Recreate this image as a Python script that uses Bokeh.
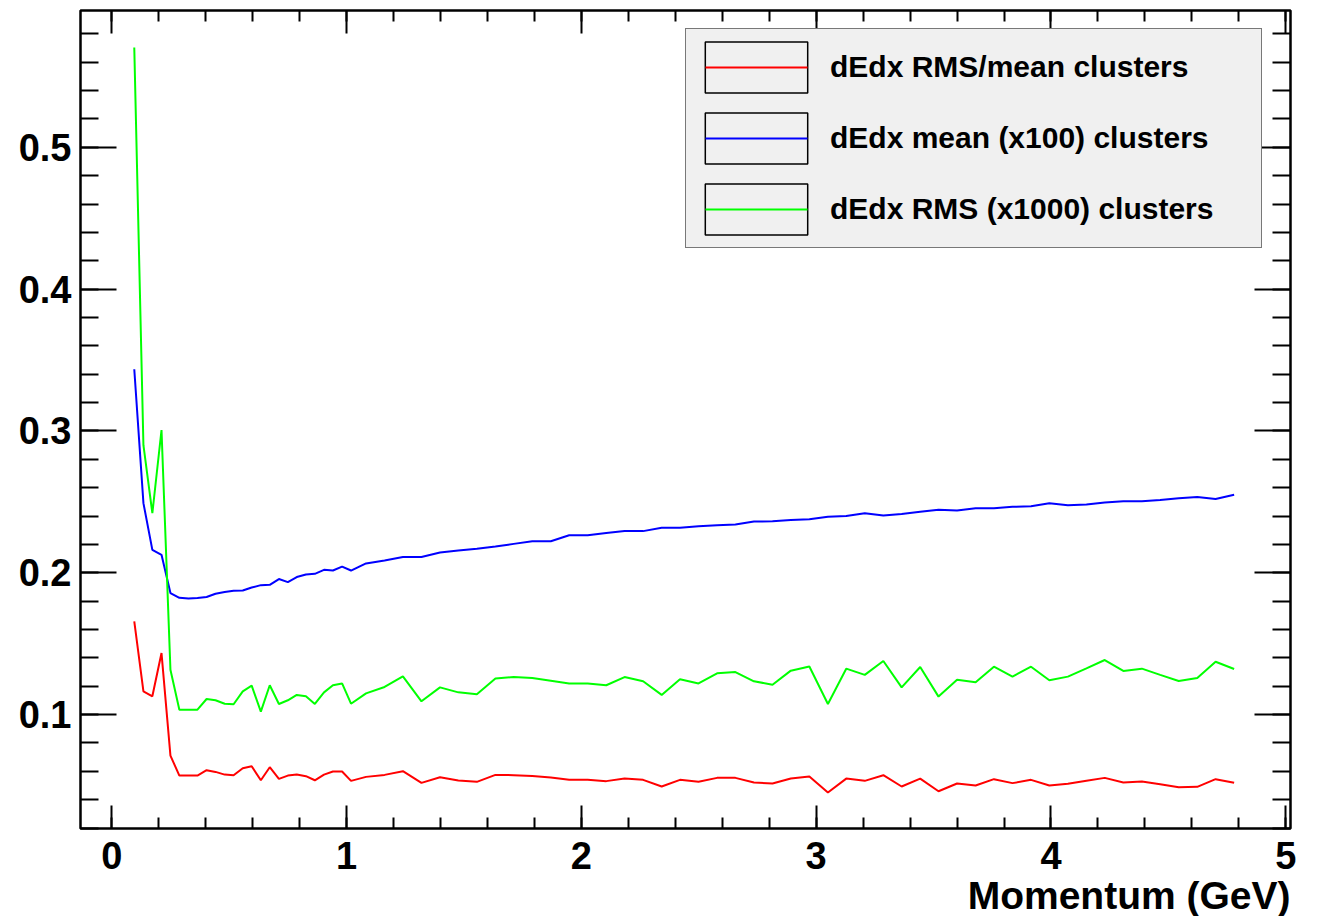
from bokeh.plotting import figure
from bokeh.models import (Range1d, LinearAxis, SingleIntervalTicker, Legend, LegendItem,
                          ColumnDataSource, CustomJSTickFormatter, Title)
from bokeh.embed import file_html
from bokeh.resources import INLINE

# ---- data ----
momentum = [0.096, 0.135, 0.173, 0.212, 0.250, 0.288, 0.327, 0.365, 0.404, 0.442,
            0.481, 0.519, 0.558, 0.596, 0.635, 0.673, 0.712, 0.750, 0.788, 0.827,
            0.865, 0.904, 0.942, 0.981, 1.019,
            1.083, 1.162, 1.240, 1.319, 1.398, 1.476, 1.555, 1.634, 1.712, 1.791,
            1.870, 1.948, 2.027, 2.106, 2.184, 2.263, 2.342, 2.420, 2.499, 2.578,
            2.656, 2.735, 2.814, 2.892, 2.971, 3.050, 3.128, 3.207, 3.286, 3.364,
            3.443, 3.521, 3.600, 3.679, 3.757, 3.836, 3.915, 3.993, 4.072, 4.151,
            4.229, 4.308, 4.387, 4.465, 4.544, 4.623, 4.701, 4.780]

rms_over_mean = [0.1657, 0.1164, 0.1129, 0.1434, 0.0711, 0.0570, 0.0570, 0.0570, 0.0608, 0.0596,
                 0.0577, 0.0573, 0.0622, 0.0636, 0.0537, 0.0629, 0.0547, 0.0570, 0.0577, 0.0566,
                 0.0537, 0.0577, 0.0599, 0.0599, 0.0533,
                 0.0561, 0.0575, 0.0601, 0.0519, 0.0558, 0.0535, 0.0526, 0.0575, 0.0573, 0.0568,
                 0.0556, 0.0540, 0.0540, 0.0531, 0.0549, 0.0540, 0.0493, 0.0540, 0.0526, 0.0554,
                 0.0554, 0.0521, 0.0514, 0.0549, 0.0563, 0.0451, 0.0549, 0.0533, 0.0573, 0.0493,
                 0.0549, 0.0460, 0.0514, 0.0500, 0.0545, 0.0517, 0.0540, 0.0500, 0.0512, 0.0533,
                 0.0554, 0.0521, 0.0528, 0.0509, 0.0488, 0.0491, 0.0545, 0.0519]

mean_x100 = [0.3435, 0.2491, 0.2162, 0.2127, 0.1857, 0.1824, 0.1818, 0.1822, 0.1829, 0.1852,
             0.1864, 0.1873, 0.1875, 0.1896, 0.1913, 0.1915, 0.1956, 0.1934, 0.1970, 0.1988,
             0.1993, 0.2021, 0.2016, 0.2044, 0.2016,
             0.2066, 0.2087, 0.2111, 0.2111, 0.2143, 0.2157, 0.2169, 0.2185, 0.2204, 0.2223,
             0.2223, 0.2265, 0.2265, 0.2280, 0.2294, 0.2294, 0.2317, 0.2317, 0.2329, 0.2336,
             0.2340, 0.2361, 0.2364, 0.2373, 0.2378, 0.2396, 0.2401, 0.2420, 0.2404, 0.2415,
             0.2430, 0.2444, 0.2439, 0.2456, 0.2456, 0.2465, 0.2470, 0.2491, 0.2477, 0.2481,
             0.2495, 0.2505, 0.2505, 0.2514, 0.2526, 0.2535, 0.2521, 0.2551]

rms_x1000 = [0.5704, 0.2900, 0.2420, 0.3007, 0.1317, 0.1035, 0.1035, 0.1035, 0.1110, 0.1101,
             0.1077, 0.1073, 0.1164, 0.1204, 0.1021, 0.1207, 0.1075, 0.1101, 0.1139, 0.1129,
             0.1075, 0.1157, 0.1207, 0.1220, 0.1077,
             0.1150, 0.1195, 0.1270, 0.1094, 0.1192, 0.1157, 0.1143, 0.1254, 0.1265, 0.1258,
             0.1239, 0.1220, 0.1220, 0.1207, 0.1265, 0.1235, 0.1139, 0.1249, 0.1220, 0.1291,
             0.1300, 0.1235, 0.1211, 0.1310, 0.1339, 0.1075, 0.1324, 0.1280, 0.1378, 0.1192,
             0.1336, 0.1127, 0.1246, 0.1228, 0.1338, 0.1268, 0.1338, 0.1242, 0.1268, 0.1326,
             0.1385, 0.1308, 0.1324, 0.1280, 0.1237, 0.1258, 0.1373, 0.1322]

series_labels = ["dEdx RMS/mean clusters", "dEdx mean (x100) clusters", "dEdx RMS (x1000) clusters"]
series_colors = ["#ff0000", "#0000ff", "#00ff00"]
x_title = "Momentum (GeV)"

FONT = "Liberation Sans"

p = figure(width=1308, height=916, output_backend="svg", toolbar_location=None,
           x_range=Range1d(-0.133, 5.020), y_range=Range1d(0.0197, 0.5965),
           x_axis_type=None, y_axis_type=None,
           min_border_left=80, min_border_right=18, min_border_top=10, min_border_bottom=87)
p.background_fill_color = "white"
p.border_fill_color = "white"
p.outline_line_color = "black"
p.outline_line_width = 2.5


def style_axis(ax, tick_in, minor_in, labels):
    ax.major_tick_in = tick_in
    ax.major_tick_out = 0
    ax.minor_tick_in = minor_in
    ax.minor_tick_out = 0
    ax.major_tick_line_color = "black"
    ax.minor_tick_line_color = "black"
    ax.major_tick_line_width = 2
    ax.minor_tick_line_width = 2
    ax.axis_line_color = None
    if labels:
        ax.major_label_text_font = FONT
        ax.major_label_text_font_style = "bold"
        ax.major_label_text_font_size = "38px"
        ax.major_label_text_color = "black"
    else:
        ax.formatter = CustomJSTickFormatter(code="return ''")
        ax.major_label_text_font_size = "0px"
        ax.major_label_standoff = 0


xb = LinearAxis(ticker=SingleIntervalTicker(interval=1, num_minor_ticks=5))
style_axis(xb, 23, 11, True)
xb.major_label_standoff = 13
xt = LinearAxis(ticker=SingleIntervalTicker(interval=1, num_minor_ticks=5))
style_axis(xt, 23, 11, False)
yl = LinearAxis(ticker=SingleIntervalTicker(interval=0.1, num_minor_ticks=5))
style_axis(yl, 36, 18, True)
yl.major_label_standoff = 9
yr = LinearAxis(ticker=SingleIntervalTicker(interval=0.1, num_minor_ticks=5))
style_axis(yr, 36, 18, False)

use_title = False
try:
    xb.axis_label_align = "right"
    xb.axis_label = x_title
    xb.axis_label_text_font = FONT
    xb.axis_label_text_font_style = "bold"
    xb.axis_label_text_font_size = "39px"
    xb.axis_label_text_color = "black"
    xb.axis_label_standoff = 0
except Exception:
    use_title = True
    xb.axis_label = None

p.add_layout(xb, "below")
p.add_layout(xt, "above")
p.add_layout(yl, "left")
p.add_layout(yr, "right")

if use_title:
    t = Title(text=x_title, align="right", text_font=FONT, text_font_style="bold",
              text_font_size="39px", text_color="black", standoff=0)
    p.add_layout(t, "below")

items = []
for lab, ys, col in zip(series_labels, [rms_over_mean, mean_x100, rms_x1000], series_colors):
    p.line(momentum, ys, line_color=col, line_width=2)
    # legend-only sample: a framed box with the coloured line inside (hidden in the plot area)
    box = p.rect(x="x", y="y", width=1, height=1,
                 source=ColumnDataSource(dict(x=momentum[:1], y=ys[:1])),
                 fill_color=None, line_color="black", line_width=1.5)
    box.visible = False
    sample = p.line(x="x", y="y", source=ColumnDataSource(dict(x=momentum[:2], y=ys[:2])),
                    line_color=col, line_width=2, line_dash="0 13 102 1000")
    sample.visible = False
    items.append(LegendItem(label=lab, renderers=[box, sample]))

legend = Legend(items=items, location=(605, 580), orientation="vertical",
                glyph_width=128, glyph_height=64, spacing=7, padding=6, margin=0,
                label_standoff=10, label_width=425,
                label_text_font=FONT, label_text_font_style="bold", label_text_font_size="30px",
                label_text_color="black",
                border_line_color="black", border_line_width=1.5,
                background_fill_color="#f0f0f0", background_fill_alpha=1.0)
p.add_layout(legend)

open("out.html", "w").write(file_html(p, INLINE))
